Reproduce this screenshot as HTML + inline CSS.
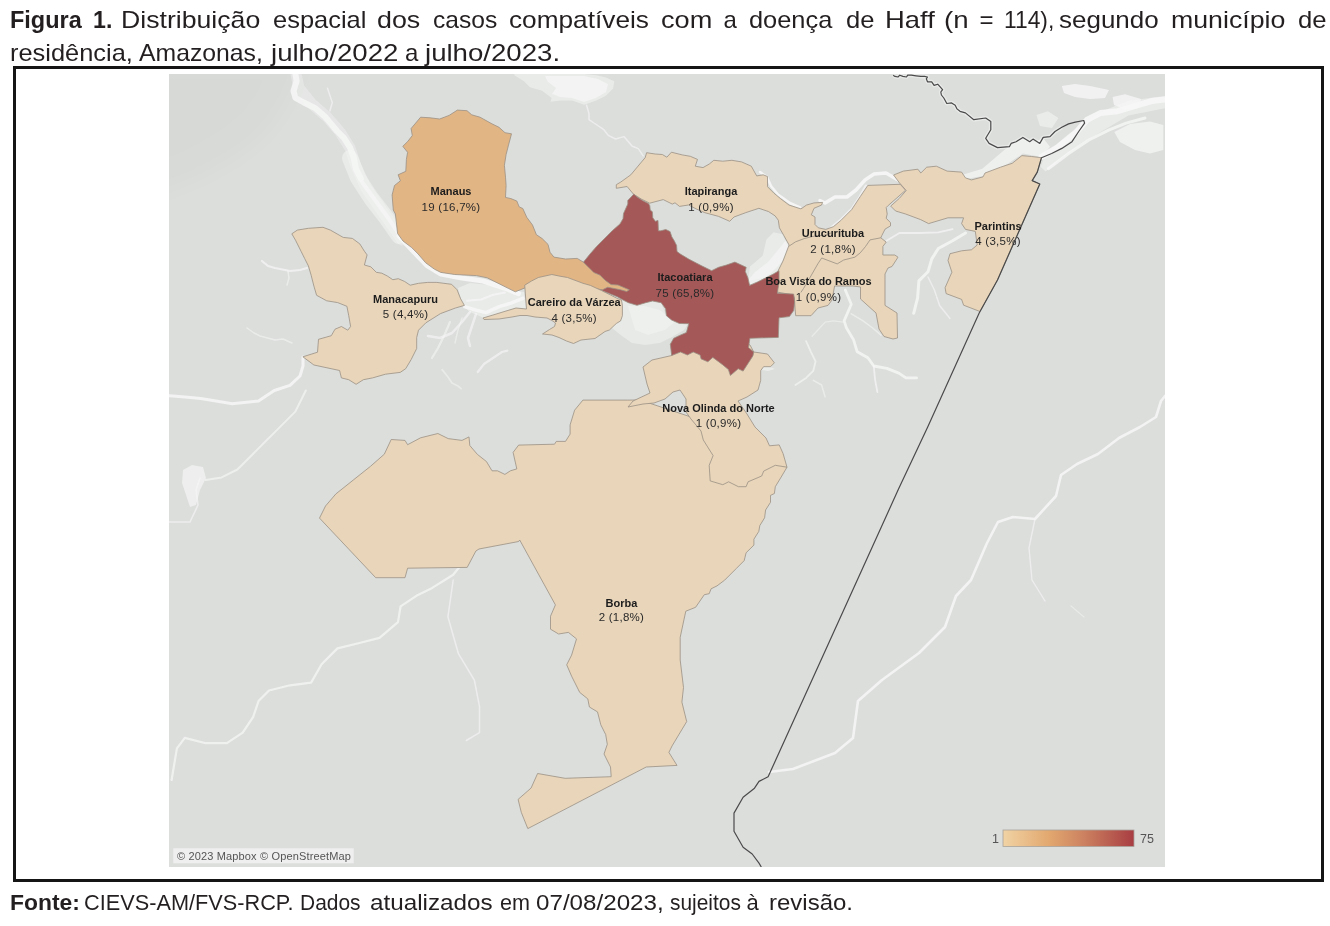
<!DOCTYPE html>
<html lang="pt"><head><meta charset="utf-8"><title>Figura 1</title>
<style>
html,body{margin:0;padding:0;background:#fff;}
body{width:1330px;height:926px;position:relative;overflow:hidden;font-family:"Liberation Sans",Arial,sans-serif;color:#231f20;}
.ln{position:absolute;left:0;width:1330px;white-space:nowrap;}
.ln span,.ln b{position:absolute;top:0;transform-origin:0 0;}
.t1{top:3px;height:33px;font-size:24px;line-height:33px;}
.t2{top:36px;height:33px;font-size:24px;line-height:33px;}
.src{top:890.4px;height:26px;font-size:22px;line-height:26px;}
.frame{position:absolute;left:13px;top:66px;width:1305px;height:810px;border:3px solid #151515;}
.map{position:absolute;left:0;top:0;}
b{font-weight:bold;}
</style></head>
<body>
<div class="ln t1"><b style="left:10.22px;transform:scaleX(0.9782)">Figura</b> <b style="left:93.34px;transform:scaleX(0.9647)">1.</b> <span style="left:120.59px;transform:scaleX(1.1102)">Distribuição</span> <span style="left:272.74px;transform:scaleX(1.0604)">espacial</span> <span style="left:377.08px;transform:scaleX(1.1168)">dos</span> <span style="left:432.78px;transform:scaleX(1.0244)">casos</span> <span style="left:509.01px;transform:scaleX(1.0925)">compatíveis</span> <span style="left:661.27px;transform:scaleX(1.1304)">com</span> <span style="left:723.4px;transform:scaleX(1.0000)">a</span> <span style="left:749.24px;transform:scaleX(1.0575)">doença</span> <span style="left:845.73px;transform:scaleX(1.0652)">de</span> <span style="left:884.56px;transform:scaleX(1.1418)">Haff</span> <span style="left:943.85px;transform:scaleX(1.1500)">(n</span> <span style="left:979.4px;transform:scaleX(1.0000)">=</span> <span style="left:1004.25px;transform:scaleX(0.9500)">114),</span> <span style="left:1059.3px;transform:scaleX(1.0824)">segundo</span> <span style="left:1170.99px;transform:scaleX(1.1128)">município</span> <span style="left:1298.23px;transform:scaleX(1.0691)">de</span></div>
<div class="ln t2"><span style="left:9.64px;transform:scaleX(1.0583)">residência,</span> <span style="left:139.3px;transform:scaleX(1.0313)">Amazonas,</span> <span style="left:271.15px;transform:scaleX(1.1500)">julho/2022</span> <span style="left:405.05px;transform:scaleX(1.0000)">a</span> <span style="left:425.45px;transform:scaleX(1.1500)">julho/2023.</span></div>
<div class="frame"></div>
<svg class="map" width="1330" height="926" viewBox="0 0 1330 926"><defs><filter id="bl" x="-20%" y="-20%" width="140%" height="140%"><feGaussianBlur stdDeviation="12"/></filter><clipPath id="mc"><rect x="169" y="74" width="996" height="793"/></clipPath><linearGradient id="lg" x1="0" x2="1" y1="0" y2="0"><stop offset="0" stop-color="#f1d3a4"/><stop offset="0.35" stop-color="#e2a86f"/><stop offset="0.62" stop-color="#cc8160"/><stop offset="1" stop-color="#a83d42"/></linearGradient></defs><g clip-path="url(#mc)"><rect x="169" y="74" width="996" height="793" fill="#dcdedc"/><polygon points="140,50 305,50 300,74 292,92 282,112 268,132 245,152 215,170 190,182 169,190 140,200" fill="#000" opacity="0.016" filter="url(#bl)"/><polygon points="514.4,74 584,74 596.2,75.2 605.9,77.6 614.3,81.2 613.1,88.4 605.9,95.7 596.2,100.5 584.2,104.7 572.2,100.5 560.2,100.5 550.5,101.7 551.7,98 542.1,90.8 530,87.2 524,81.2 514.4,75.2" fill="#f4f5f4" opacity="0.55"/><polygon points="545,76 584,76 598,79 608,84 606,92 596,98 584,102 572,98 560,97 552,94 556,88 548,82" fill="#f4f5f4" opacity="0.75"/><polygon points="1061.8,86 1075,84 1090,86 1109,90 1105,98 1090,99 1075,97 1064,93" fill="#f4f5f4" opacity="0.85"/><polygon points="1112.6,97 1125,94.3 1141,99 1138,108 1125,109.5 1114,105" fill="#f4f5f4" opacity="0.85"/><polygon points="1114.3,132 1130,124 1150,121.4 1163.3,125 1163.3,150 1150,153.5 1135,150 1120,142" fill="#f4f5f4" opacity="0.8"/><polygon points="1036.4,115 1048,111.2 1058.4,118 1052,128.1 1040,126" fill="#f4f5f4" opacity="0.6"/><polygon points="1045.5,154.5 1067.4,135 1084.5,122.8 1104,110.6 1128.4,100.8 1165,96 1165,108.2 1128.4,115.5 1104,130.1 1079.6,144.8 1060.1,159.4 1045.5,171.6 1040.6,166.7" fill="#f4f5f4" opacity="0.55"/><polygon points="960.3,175.5 982.3,168.7 1004.3,150.1 1021.2,138.3 1034.7,141.7 1043.2,138.3 1050,146.7 1041.5,156.9 1022.9,153.5 1007.7,163.7 985.7,175.5 965.4,178.9" fill="#f4f5f4" opacity="0.75"/><polygon points="611,300 622,300 637,305 652,301 661,303 666,315 672,321 688,324 684,330 672,337 660,343 645,345 632,343 622,336 612,328" fill="#f4f5f4" opacity="0.5"/><polygon points="628,306 645,306 660,310 675,322 665,330 648,335 635,330" fill="#f4f5f4" opacity="0.5"/><polygon points="458,288 470,283 490,285 510,290 524,292 526,309 516,308 500,313 484,318 470,312 462,305" fill="#f4f5f4" opacity="0.55"/><polygon points="748,281 750,266.6 762.7,255.8 766.4,239.6 773.6,232.3 782.6,234.2 788,246.8 784.4,255.8 780.8,264.8 777.2,272 766.4,277.5" fill="#f4f5f4" opacity="0.55"/><polygon points="745,284 755,272 768,262 778,250 786,240 790,248 782,262 770,274 755,284" fill="#f4f5f4" opacity="0.7"/><polygon points="763,366 770,367 775,369 768,371 762,370" fill="#f4f5f4" opacity="0.6"/><polygon points="183,470 192,465 203,467 206,478 200,490 196,505 190,507 186,495 182,483" fill="#f4f5f4" opacity="0.7"/><polyline points="296,74 299,88 312,104 327,117 340,132 350,148 356,166 366,188 380,208 394,228 402,240" fill="none" stroke="#f6f7f6" stroke-width="11" stroke-linejoin="round" stroke-linecap="round" opacity="0.35"/><polyline points="295.4,74 296.6,81 293.5,91 295.4,97.8 303.8,102.5 315.6,108.4 325.1,116.8 331.1,123.9 337,131 344.1,138.1 350.1,147.6 353.6,157.1 356,169 360.8,178.5" fill="none" stroke="#f6f7f6" stroke-width="6" stroke-linejoin="round" stroke-linecap="round" opacity="0.85"/><polyline points="350,158 358,178 371,198 385,216 399,236" fill="none" stroke="#f6f7f6" stroke-width="16" stroke-linejoin="round" stroke-linecap="round" opacity="0.5"/><polyline points="362,182 375,200 389,219 400,236" fill="none" stroke="#f6f7f6" stroke-width="4" stroke-linejoin="round" stroke-linecap="round" opacity="0.6"/><polyline points="399,236 413,251 427,265.5 441,274 462,278 483,281 504.5,288 518.5,293.6" fill="none" stroke="#f6f7f6" stroke-width="5" stroke-linejoin="round" stroke-linecap="round" opacity="0.9"/><polyline points="327.5,88.3 332.3,102.5 329.9,110.8" fill="none" stroke="#f6f7f6" stroke-width="1.5" stroke-linejoin="round" stroke-linecap="round" opacity="0.6"/><polyline points="169,395.8 185,397 200.6,398.4 216,401 232.2,403.7 258.5,401.1 274.3,390.5 290,385.3 300,376 303,366 303,357" fill="none" stroke="#f6f7f6" stroke-width="3" stroke-linejoin="round" stroke-linecap="round" opacity="0.85"/><polyline points="305.8,390.5 295.3,411.6 274.3,432.6 253.2,453.7 237.4,469.5 221.6,477.4 205.8,480" fill="none" stroke="#f6f7f6" stroke-width="2" stroke-linejoin="round" stroke-linecap="round" opacity="0.65"/><polyline points="200,478 196,490 198,505 190,522 169,522" fill="none" stroke="#f6f7f6" stroke-width="1.6" stroke-linejoin="round" stroke-linecap="round" opacity="0.6"/><polyline points="262,261 268,266 275,268 290,271 300,270 307,268" fill="none" stroke="#f6f7f6" stroke-width="2.2" stroke-linejoin="round" stroke-linecap="round" opacity="0.7"/><polyline points="288,271 289,278 287,285" fill="none" stroke="#f6f7f6" stroke-width="1.5" stroke-linejoin="round" stroke-linecap="round" opacity="0.55"/><polyline points="247,328 254,333 260,336 275,340 283,339 292,343" fill="none" stroke="#f6f7f6" stroke-width="1.5" stroke-linejoin="round" stroke-linecap="round" opacity="0.55"/><polyline points="474.3,548.4 453.2,574.7 432.2,587.9 416.4,595.8 400.6,606.3 398,622.1 379.5,637.9 358.5,643.2 337.4,648.4 321.6,664.2 311.1,682.6 290,685.3 269,690.5 258.5,701.1 253.2,716.8 242.7,732.6 226.9,743.2 205.8,743.2 184.8,737.9 176.9,748.4 171.6,780" fill="none" stroke="#f6f7f6" stroke-width="2.2" stroke-linejoin="round" stroke-linecap="round" opacity="0.75"/><polyline points="453.2,580 447.9,616.8 458.4,653.7 474.3,680 479.5,706.3 479.5,732.6 466.3,740.5" fill="none" stroke="#f6f7f6" stroke-width="1.5" stroke-linejoin="round" stroke-linecap="round" opacity="0.6"/><polyline points="760,172 767,177 771,186 778,194.5 790,203 800,207.5" fill="none" stroke="#f6f7f6" stroke-width="2.5" stroke-linejoin="round" stroke-linecap="round" opacity="0.9"/><polyline points="820,200.5 825,203 835,197 847,197 856,190 865,180 874,174 886,173 898,180" fill="none" stroke="#f6f7f6" stroke-width="3.5" stroke-linejoin="round" stroke-linecap="round" opacity="0.9"/><polyline points="830,229 841,220 852,209 860,197 866,186" fill="none" stroke="#f6f7f6" stroke-width="3" stroke-linejoin="round" stroke-linecap="round" opacity="0.7"/><polyline points="1041.5,156.9 1058.4,146.7 1075.3,133.2 1087.2,119.7 1100.7,112.9 1117.6,111.2 1134.6,106.1 1151.5,101.1 1165,99.4" fill="none" stroke="#f6f7f6" stroke-width="6" stroke-linejoin="round" stroke-linecap="round" opacity="0.9"/><polyline points="1048.3,168.7 1068.6,153.5 1088.9,140 1109.2,129.8 1126.1,123.1 1145,118" fill="none" stroke="#f6f7f6" stroke-width="3" stroke-linejoin="round" stroke-linecap="round" opacity="0.8"/><polyline points="886.5,240.7 899.4,233 918.9,233 938.3,232.3 952.6,229.1" fill="none" stroke="#f6f7f6" stroke-width="1.8" stroke-linejoin="round" stroke-linecap="round" opacity="0.7"/><polyline points="965.5,233 952.6,240.7 938.3,248.5 931.8,258.9 928,271.8 918.9,280.9 917.6,297.8 913.7,313.3" fill="none" stroke="#f6f7f6" stroke-width="3" stroke-linejoin="round" stroke-linecap="round" opacity="0.8"/><polyline points="928,277 934.4,290 939.6,305.5 950,318.5" fill="none" stroke="#f6f7f6" stroke-width="1.5" stroke-linejoin="round" stroke-linecap="round" opacity="0.6"/><polyline points="845.3,290 851.3,304.3 844.1,320.9 846.5,328 853.6,339.9 857.2,351.8 867.9,357.7 873.8,366 886.9,368.4 898.8,373.1 905.9,377.9 916.6,377.9" fill="none" stroke="#f6f7f6" stroke-width="2.8" stroke-linejoin="round" stroke-linecap="round" opacity="0.8"/><polyline points="873.8,366 875,379.1 877.4,392.1" fill="none" stroke="#f6f7f6" stroke-width="1.8" stroke-linejoin="round" stroke-linecap="round" opacity="0.7"/><polyline points="806.1,341.1 810.9,351.8 815.6,361.3 813.3,370.8 806.1,377.9 795.4,385" fill="none" stroke="#f6f7f6" stroke-width="1.8" stroke-linejoin="round" stroke-linecap="round" opacity="0.65"/><polyline points="813.3,380.3 821.6,385 825.1,396.9" fill="none" stroke="#f6f7f6" stroke-width="1.5" stroke-linejoin="round" stroke-linecap="round" opacity="0.55"/><polyline points="812.1,336.3 825.1,322.1 833.4,320.9 843,322.1" fill="none" stroke="#f6f7f6" stroke-width="1.3" stroke-linejoin="round" stroke-linecap="round" opacity="0.5"/><polyline points="851.3,313.8 863.1,320.9 872.6,328 881,335.1" fill="none" stroke="#f6f7f6" stroke-width="1.5" stroke-linejoin="round" stroke-linecap="round" opacity="0.55"/><polyline points="769,772 793,769 835,753 853,738 858,701 882,680 919,653 945,627 956,596 971,580 987,543 998,522 1013,517 1035,519 1056,496 1061,475 1077,464 1098,454 1119,438 1140,427 1156,417 1161,401 1165,396" fill="none" stroke="#f6f7f6" stroke-width="2.6" stroke-linejoin="round" stroke-linecap="round" opacity="0.85"/><polyline points="1035,519 1029,548 1032,580 1045,601" fill="none" stroke="#f6f7f6" stroke-width="1.4" stroke-linejoin="round" stroke-linecap="round" opacity="0.6"/><polyline points="1071,606 1084,617" fill="none" stroke="#f6f7f6" stroke-width="1.2" stroke-linejoin="round" stroke-linecap="round" opacity="0.5"/><polyline points="464.6,306.6 476.5,310.2 486,312.6 499.1,306.6 511,303.1 522.8,298.3" fill="none" stroke="#f6f7f6" stroke-width="3.5" stroke-linejoin="round" stroke-linecap="round" opacity="0.85"/><polyline points="467,300.7 481.3,299.5 493.1,294.8 505,292.4" fill="none" stroke="#f6f7f6" stroke-width="2" stroke-linejoin="round" stroke-linecap="round" opacity="0.7"/><polyline points="470,312 462,322 452,333 440,338 428,336" fill="none" stroke="#f6f7f6" stroke-width="2.5" stroke-linejoin="round" stroke-linecap="round" opacity="0.6"/><polyline points="450,322 444,336 438,348 432,358" fill="none" stroke="#f6f7f6" stroke-width="2.2" stroke-linejoin="round" stroke-linecap="round" opacity="0.55"/><polyline points="476,314 472,326 468,338 470,346" fill="none" stroke="#f6f7f6" stroke-width="2.5" stroke-linejoin="round" stroke-linecap="round" opacity="0.6"/><polyline points="462,318 458,330 455,343" fill="none" stroke="#f6f7f6" stroke-width="1.5" stroke-linejoin="round" stroke-linecap="round" opacity="0.5"/><polyline points="477.7,372 484,364 490,360 496,356 502,352 507.4,350.6" fill="none" stroke="#f6f7f6" stroke-width="2.2" stroke-linejoin="round" stroke-linecap="round" opacity="0.6"/><polyline points="442.1,369.6 448,377 452,383 458,386 461.1,388.6" fill="none" stroke="#f6f7f6" stroke-width="1.8" stroke-linejoin="round" stroke-linecap="round" opacity="0.5"/><polyline points="586.6,105.3 589,113.7 589,119.7 596.2,124.5 603.5,129.3 608.3,135.4 615.5,139 623.9,136.6 632.3,146.2 638.3,148.6 643.2,155.8" fill="none" stroke="#f6f7f6" stroke-width="1.5" stroke-linejoin="round" stroke-linecap="round" opacity="0.6"/><g stroke="#9a9184" stroke-width="0.8" stroke-linejoin="round"><polygon points="319.5,518.1 325.5,506 335.9,493.9 353.2,480.1 370.5,466.3 384.3,454.2 391.2,439.5 405,440.4 407.6,444.7 420.6,437.8 437.9,433.5 448.2,438.6 462,440.4 469,436.9 469.8,445.5 477.3,454.3 486.5,461.6 492,470.8 497.5,470.8 504.9,474.4 510.4,470.8 516.8,468.9 513.1,452.4 518.6,445.1 554.5,444.2 556.3,441.4 565.5,441.4 570.1,434.1 570.1,424.9 574.6,410.2 582.9,400.1 627.9,400.1 640,400 700,420 787,467.2 781.2,477 775.3,486.7 774.4,493.5 770.5,495.4 770.5,502.3 765.6,510 764.6,517.8 759.8,525.6 758.8,531.4 753.9,539.2 753.9,545.1 746.1,552.8 744.2,560.6 736.4,568.4 724.7,580.1 717,585.9 711.1,588.8 709.2,593.7 704.3,594.7 695.6,607.3 685.8,611.2 683.9,620 680.2,637.3 680.2,660 683.5,687.5 681.9,702.1 686.7,721.6 672.1,745.9 668.9,752.4 677,765.4 646.2,767 527.8,828.6 521.3,812.4 518.1,799.4 531.1,788 537.6,773.5 565.1,778.3 611.2,776.7 610.5,767 604,754 607.3,744.3 605.7,734.6 600.8,724.8 597.5,711.9 589.4,707 587.8,698.9 579.7,692.4 571.6,676.2 566.7,664.8 571.6,655.1 576.5,638.9 568.4,632.4 558.6,634 550.5,629.2 550.5,616.2 555.4,604.9 519.7,540 518.7,541.5 479,549 475.9,551 467.2,567.4 407.6,568.2 405,577.7 375.7,577.7" fill="#e8d5ba"/><polygon points="643,367 652,360 671.7,355.5 672,345 700,345 745,342 750,345 753.8,352 767.5,354 774.4,362.8 770.5,366.7 763.6,366.7 760.7,370.6 760.7,380.4 758,390 747,397 738,401 747,414 755,427 766,438 769.5,445.8 779.2,444.9 783.1,453.6 787,467.2 775.3,465.3 763.7,471.1 761.7,476 748.1,481.8 746.1,486.7 738.4,486.7 728.6,481.8 722.8,484.7 710.2,480.9 709.2,465.3 713.1,455.6 703.3,440 701,431 691,419 686,412 686,399 680,390 673,392 665,399 654,403 643,404 628,407 633,401 650,393 647,384" fill="#e8d5ba"/><polygon points="616.3,184.7 620.8,182 630.8,174.8 639.8,164 645.2,157.6 646.6,152.7 655.1,154 662.3,154.5 666.9,157.2 671.4,152.2 682.2,154.9 690.3,156.3 697.5,159.4 695.3,166.2 703,167.6 709.3,164 713.8,160.3 722.8,161.2 731.9,160.3 741.6,161.9 751.3,166.2 756.7,175.9 763.2,174.8 767.5,176.5 767.5,186.7 774,193.2 780.5,198.6 789.1,205.1 801,208.9 806.4,205.1 814,202.9 822.6,202.4 821.5,205.1 814,208.3 811.3,214.8 815,217 815,224.5 818.3,227.8 825.8,229.4 833.4,226.7 840.8,220.5 851.6,209.7 860.2,196.7 867.8,185.4 900.2,184.3 905.6,190.2 897,197.8 888.3,205.4 886.2,207.5 887.2,214 886.2,218.3 890.5,222.6 890.5,225.9 885.1,229.1 881.8,235.6 880.8,237.8 886.2,242.1 882.9,246.4 882.9,255 894.8,255 898,257.2 892,266.5 888,268 885,274 885,305.4 897,313 897.5,338 893,339 884,336.5 879,329 876,313 860.5,299 860.5,287 853,286 834.6,286 832,300 828,305.4 818,308 811,315.7 801,315.7 795.7,315.7 795,308 794.4,297.6 793,295 777,292 778,271 779,269 783,261 789.1,245 783.7,235.3 779.4,227.8 778.3,220.2 775.1,215.9 768.6,211.6 758.9,208.3 745.9,212.6 734,217 729.7,221.3 720,217 718.3,216.3 704.8,212.7 696.6,209.1 688.5,205 679.5,206.4 675,202.8 672.3,204.1 663.2,199.6 649.7,203.2 641.6,199.2 633.5,194.2 627.1,186.5 616.3,188.3" fill="#e8d5ba"/><polygon points="893.6,175 903.3,171.1 917.9,169.2 920.8,173 926.7,167.2 936.4,166.2 947.1,171.1 961.6,172.1 965.5,177.9 971.4,179.9 983,176.9 985,173 1000.5,167.2 1012.2,163.3 1021.9,155.6 1031.6,156.5 1041.5,157.7 1037.3,172.1 1032.2,180.6 1039.8,184 997.5,280 980,311.5 963.6,305.2 961.6,299.4 946.1,293.6 945.1,287.7 951.9,272.2 948,260.5 950,253.7 961.6,250.8 971.4,249.8 977.2,245 975.3,231.4 965.5,229.4 961.6,223.6 963.6,217.8 948,217.8 928.6,223.6 920.8,219.7 905.3,213.9 895.6,211 890.7,206.1 899.4,198.3 906.2,190.5 899.4,182.8" fill="#e8d5ba"/><polygon points="291.8,233.8 297.3,230.1 308.4,228.3 323,227.3 330.4,230.1 343.2,237.4 352.4,238.4 359.8,243.9 364.4,251.2 367.1,254.9 364.4,265 370.8,266.8 376.3,272.3 381.8,273.2 387.3,276 392.8,279.7 398.3,278.7 404.7,281.5 410.2,285.2 418.5,283.3 427.7,282.4 436.9,282.4 451.6,284.3 457.1,289.8 460.7,298.9 464.4,305.4 455.2,308.1 440.5,313.6 425.9,322.8 418.5,330.2 416.7,337.5 416.7,348.5 411.2,359.5 405.7,368.7 400.2,372.4 385.5,374.2 372.6,377.9 363.4,379.7 356.1,384.3 348.7,379.7 341.4,377.9 339.6,370.5 313.9,365 302.9,356.8 317.5,352.2 318.5,339.3 331.3,335.7 335,329.2 341.4,326.5 347.8,330.2 350.6,326.5 348.7,315.5 346.9,306.3 337.7,302.6 326.7,300.8 316.6,295.3 313.9,286.1 311.1,275.1 308.4,265.9 304.7,258.6 301,251.2 295.5,240.2" fill="#e8d5ba"/><polygon points="633.8,194.1 637.3,197.1 642.5,200.5 648.5,203.6 649.8,205.7 650.2,210 652.4,211.8 652.8,217.8 655.4,221.3 658,220.4 658.4,230.8 660.6,230.8 665.8,229.5 670.1,231.6 671.8,236.8 674.4,241.1 676.6,245.4 677,251.5 680.4,254.1 689.1,259.3 701.2,265.6 711.6,270.7 718.5,267.3 726.3,265.1 734.9,262.1 746.2,267.3 745.3,271.6 747.9,277.7 749.6,285.4 757.4,282 766.1,277.7 773,274.2 779,270.7 779,282.8 777.3,293.2 793.7,294.1 794.6,301.9 793.7,310.5 789.4,316.6 779,317.8 778.3,337.4 749.9,338.3 748.5,347.6 753.8,352 752.9,355.9 743.1,371.1 738.2,368.7 730.4,375.5 728.4,369.6 722.6,364.7 712.8,357.4 707.9,361.8 701.1,358.9 700.1,355 693.2,352 687.4,355 680.5,352 671.7,355.5 670.3,344.2 673.7,338.3 679.6,335.4 686.4,332.5 688.8,323.7 679.4,323.5 671.6,320 666.4,315.7 665.6,308.8 661.2,302.7 652.6,301 645.7,302.7 637,305.3 628.4,302.7 623.2,300.1 617.2,296.7 608.5,293.2 601.6,290.6 583.5,262.1 590,254 596.6,246.4 604,239 612.2,230.8 620,223.9 623,218.7 623.5,213.5 627.8,204 627.8,200.5" fill="#a55858"/><polygon points="420.6,117.2 430.1,117.8 439.6,119 449.1,115.4 457.4,110.1 467,110.7 471.7,114.8 480,117.2 491.9,123.8 499,127.3 505,132.7 511.5,133.8 508.5,145.1 506.1,154.6 504.4,165.3 505.5,177.2 506.1,185.5 505.5,197.4 510.9,198.6 516.8,201 519.2,206.9 522.8,208.5 526.7,217.2 532.5,225 536.4,234.7 542.2,238.6 548,244.4 550,252.2 553.9,257.1 565.5,259 577.2,258.4 583,261.9 588.6,267.3 593.8,272.5 599.9,275.1 605.1,280.3 611.1,284.6 618,285 625,288 629.3,289.8 626.7,291.5 620.6,289.8 607.7,287.2 602.5,289.8 590.4,288 580,287 567.5,282 551.9,279 538.3,281 524.7,288 515.3,291.8 508.8,288.6 498,283.2 487.2,277.8 476.4,275.6 454.8,274.5 440.8,272.4 434.3,269.1 425.6,262.7 418.1,254 411.6,247.5 403,241 397.6,233.5 395.4,214 393.3,210 392.1,195 394.5,185.5 400.4,180.8 398.1,174.8 405.8,171.3 406.4,159.4 407.6,152.3 402.8,146.3 407.6,141.6 412.3,135.6 411.1,128.5" fill="#e2b585"/><polygon points="524.7,285.2 531.5,281 538.3,277.5 551.9,274.5 559,276 567.5,277.5 583,283.3 590.4,285.4 601.6,290.6 610.3,294.9 617.2,298.4 621.5,300.1 622.4,305.3 622.4,315.7 620.6,320.9 616.3,323.5 609.4,330 605,331.5 595,338.5 581,340 573.5,343.5 566.5,341 559,337.5 552,335 542.5,334 549.5,329.5 554.5,326.5 555.5,323 552,320.5 547,318 535,317 527,315.5 520,315.5 512,317 499,319 484,319.5 483,318 493,315 506,311 516,308 526.5,309" fill="#e8d5ba"/><polyline points="789.1,246.1 795.6,241.8 804.2,238.6 812.9,236.4 823.7,235.3 831,233" fill="none"/><polyline points="800.9,292.4 803.5,288.5 807.4,282 812.6,273 817.8,263.9 821.7,258 837.2,263.9 843.7,260 854.8,257.2 860.2,252.9 865.6,246.4 870,239.9 880.8,237.8" fill="none"/></g><polyline points="893.2,75.2 895,76.4 898,77 899.8,75.2 902.9,76.4 906.5,77 907.7,75.2 911.3,75.2 916.1,75.8 920.9,76.4 924.5,76.4 927.5,77 926.3,78.8 927.5,81.8 931.7,81.8 934.1,85.4 937.7,84.2 942.6,89.6 940.8,92 941.4,95 943.8,98 946.8,103.5 951.6,102.9 955.2,105.3 957,108.9 960,111.3 965.4,112.9 973.8,119.7 985.7,118 990.8,121.4 990.8,129.8 985.7,138.3 989.1,143.4 997.5,147.6 1009.4,146.7 1011.1,143.4 1016.1,141.7 1022.9,137.4 1029.7,141.7 1033,139.1 1039.8,143.4 1043.2,137.4 1050,136.6 1055,131.5 1061.8,127.3" fill="none" stroke="#f4f5f4" stroke-width="4" stroke-linejoin="round" opacity="0.5"/><polyline points="893.2,75.2 895,76.4 898,77 899.8,75.2 902.9,76.4 906.5,77 907.7,75.2 911.3,75.2 916.1,75.8 920.9,76.4 924.5,76.4 927.5,77 926.3,78.8 927.5,81.8 931.7,81.8 934.1,85.4 937.7,84.2 942.6,89.6 940.8,92 941.4,95 943.8,98 946.8,103.5 951.6,102.9 955.2,105.3 957,108.9 960,111.3 965.4,112.9 973.8,119.7 985.7,118 990.8,121.4 990.8,129.8 985.7,138.3 989.1,143.4 997.5,147.6 1009.4,146.7 1011.1,143.4 1016.1,141.7 1022.9,137.4 1029.7,141.7 1033,139.1 1039.8,143.4 1043.2,137.4 1050,136.6 1055,131.5 1061.8,127.3 1068.6,123.9 1075.3,122.2 1083.8,120.5 1084.6,123.1 1078.7,131.5 1072,141.7 1061.8,148.4 1051.7,153.5 1041.5,157.7 1037.3,172.1 1032.2,180.6 1039.8,184 997.5,280 979.2,313 927.7,427 898.4,489.3 845.3,606.6 768.1,776.8 759,781.4 754.5,788.2 743.1,797.3 734,813.1 734,831.3 743.1,847.2 752.2,854 759,863.1 761.3,867" fill="none" stroke="#4a4a4a" stroke-width="1.2" stroke-linejoin="round"/><rect x="173.3" y="848.3" width="180.4" height="15" fill="#eeefee"/><text x="177" y="860.3" font-family="Liberation Sans, Arial, sans-serif" font-size="11" fill="#555" letter-spacing="0.15">© 2023 Mapbox © OpenStreetMap</text><rect x="1003" y="830" width="131" height="16.5" fill="url(#lg)" stroke="#a9a39c" stroke-width="0.8"/><text x="999" y="843" text-anchor="end" font-family="Liberation Sans, Arial, sans-serif" font-size="12.5" fill="#555">1</text><text x="1140" y="843" font-family="Liberation Sans, Arial, sans-serif" font-size="12.5" fill="#555">75</text><g font-family="Liberation Sans, Arial, sans-serif" font-size="11" text-anchor="middle"><text x="451" y="195" font-weight="bold" fill="#1c1c1c">Manaus</text><text x="451" y="210.5" fill="#2a2a2a" font-size="11.5" letter-spacing="0.25">19 (16,7%)</text><text x="711" y="195" font-weight="bold" fill="#1c1c1c">Itapiranga</text><text x="711" y="210.5" fill="#2a2a2a" font-size="11.5" letter-spacing="0.25">1 (0,9%)</text><text x="833" y="237" font-weight="bold" fill="#1c1c1c">Urucurituba</text><text x="833" y="252.7" fill="#2a2a2a" font-size="11.5" letter-spacing="0.25">2 (1,8%)</text><text x="998" y="229.5" font-weight="bold" fill="#1c1c1c">Parintins</text><text x="998" y="244.8" fill="#2a2a2a" font-size="11.5" letter-spacing="0.25">4 (3,5%)</text><text x="685" y="281.4" font-weight="bold" fill="#1c1c1c">Itacoatiara</text><text x="685" y="296.7" fill="#2a2a2a" font-size="11.5" letter-spacing="0.25">75 (65,8%)</text><text x="818.5" y="284.9" font-weight="bold" fill="#1c1c1c">Boa Vista do Ramos</text><text x="818.5" y="300.9" fill="#2a2a2a" font-size="11.5" letter-spacing="0.25">1 (0,9%)</text><text x="405.5" y="302.8" font-weight="bold" fill="#1c1c1c">Manacapuru</text><text x="405.5" y="317.8" fill="#2a2a2a" font-size="11.5" letter-spacing="0.25">5 (4,4%)</text><text x="574.2" y="306.4" font-weight="bold" fill="#1c1c1c">Careiro da Várzea</text><text x="574.2" y="321.8" fill="#2a2a2a" font-size="11.5" letter-spacing="0.25">4 (3,5%)</text><text x="718.5" y="411.5" font-weight="bold" fill="#1c1c1c">Nova Olinda do Norte</text><text x="718.5" y="427.4" fill="#2a2a2a" font-size="11.5" letter-spacing="0.25">1 (0,9%)</text><text x="621.4" y="606.8" font-weight="bold" fill="#1c1c1c">Borba</text><text x="621.4" y="620.8" fill="#2a2a2a" font-size="11.5" letter-spacing="0.25">2 (1,8%)</text></g></g></svg>
<div class="ln src"><b style="left:9.86px;transform:scaleX(1.0404)">Fonte:</b> <span style="left:84.31px;transform:scaleX(0.9872)">CIEVS-AM/FVS-RCP.</span> <span style="left:300.05px;transform:scaleX(0.9522)">Dados</span> <span style="left:369.6px;transform:scaleX(1.1024)">atualizados</span> <span style="left:500px;transform:scaleX(0.9817)">em</span> <span style="left:536.4px;transform:scaleX(1.0990)">07/08/2023,</span> <span style="left:669.8px;transform:scaleX(0.9500)">sujeitos</span> <span style="left:746.55px;transform:scaleX(1.0000)">à</span> <span style="left:769.21px;transform:scaleX(1.0905)">revisão.</span></div>
</body></html>
